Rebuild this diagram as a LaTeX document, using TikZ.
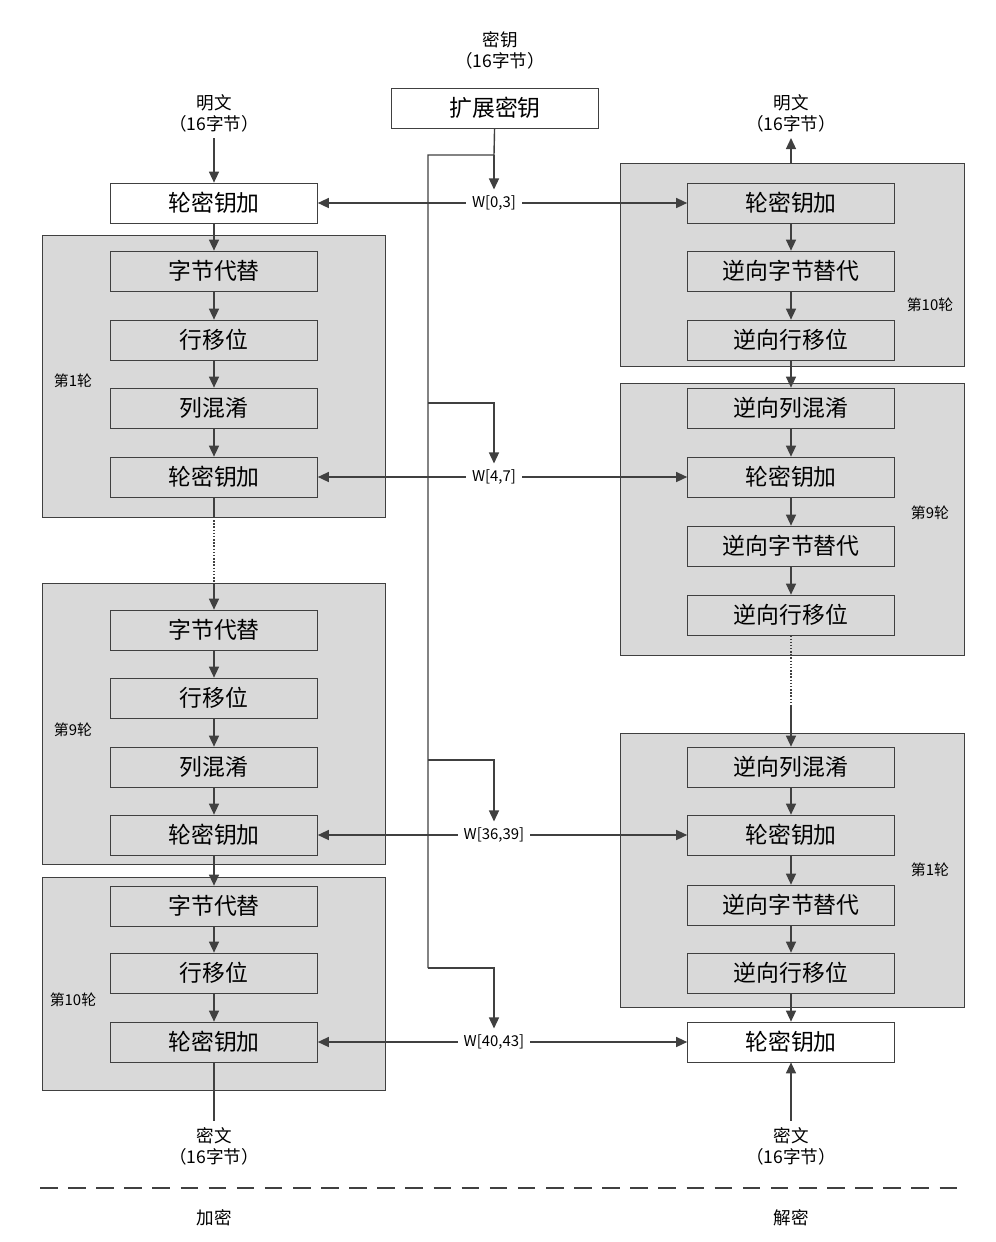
\documentclass[tikz,border=0pt]{standalone}
\usepackage{fontspec}
\setmainfont{Noto Sans CJK SC}
\usetikzlibrary{
  positioning,
  calc,
  arrows.meta}
\definecolor{linecolor}{RGB}{64,64,64}
\definecolor{roundcolor}{RGB}{217,217,217}
\tikzset{
  %% opbox : one operation of a round
  %%      ("step" is predefined and can't be used)
  opbox/.style={
    rectangle,
    draw=linecolor,
    fill=roundcolor,
    minimum width=4.14cm,
    minimum height=0.8cm,
    font=\fontsize{13}{15}\selectfont,
    align=center
  },
  %% outer : operation outside of the rounds
  outer/.style={opbox, fill=white},
  %% round : frame around a round
  %% use as \draw [round] (upper left) rectangle (lower right);
  round/.style={draw=linecolor, fill=roundcolor},
  %% small : labels
  small/.style={font=\fontsize{10}{12}\selectfont, align=center},
  tag/.style={font=\fontsize{8.5}{10}\selectfont},
  flow/.style={linecolor, thick, -{Triangle[length=2.2mm,width=2mm]}},
  wire/.style={linecolor, thick}
}

\begin{document}
\begin{tikzpicture}
  [x=0.02cm,
  y=-0.02cm]
  \useasboundingbox (0,0) rectangle (996,1242);

  %% Round frames
  \draw [round] (42,235) rectangle (385,517);
  \draw [round] (42,583) rectangle (385,864);
  \draw [round] (42,877) rectangle (385,1090);
  \draw [round] (620,163) rectangle (964,366);
  \draw [round] (620,383) rectangle (964,655);
  \draw [round] (620,733) rectangle (964,1007);

  \node [tag] at (73,381) {第1轮};
  \node [tag] at (73,730) {第9轮};
  \node [tag] at (73,1000) {第10轮};
  \node [tag] at (930,305) {第10轮};
  \node [tag] at (930,513) {第9轮};
  \node [tag] at (930,870) {第1轮};

  %% Key schedule
  \node (key in) [small] at (500,50) {密钥\\（16字节）};
  \node (expand) [outer] at (495,108) {扩展密钥};

  %% Encryption
  \node (plain e) [small] at (214,113) {明文\\（16字节）};
  \node (e0) [outer] at (214,203) {轮密钥加};
  \node (e11) [opbox] at (214,271) {字节代替};
  \node (e12) [opbox] at (214,340) {行移位};
  \node (e13) [opbox] at (214,408) {列混淆};
  \node (e14) [opbox] at (214,477) {轮密钥加};
  \node (e91) [opbox] at (214,630) {字节代替};
  \node (e92) [opbox] at (214,698) {行移位};
  \node (e93) [opbox] at (214,767) {列混淆};
  \node (e94) [opbox] at (214,835) {轮密钥加};
  \node (e101) [opbox] at (214,906) {字节代替};
  \node (e102) [opbox] at (214,973) {行移位};
  \node (e103) [opbox] at (214,1042) {轮密钥加};
  \node (cipher e) [small] at (214,1146) {密文\\（16字节）};

  %% Decryption
  \node (plain d) [small] at (791,113) {明文\\（16字节）};
  \node (d101) [opbox] at (791,203) {轮密钥加};
  \node (d102) [opbox] at (791,271) {逆向字节替代};
  \node (d103) [opbox] at (791,340) {逆向行移位};
  \node (d91) [opbox] at (791,408) {逆向列混淆};
  \node (d92) [opbox] at (791,477) {轮密钥加};
  \node (d93) [opbox] at (791,546) {逆向字节替代};
  \node (d94) [opbox] at (791,615) {逆向行移位};
  \node (d11) [opbox] at (791,767) {逆向列混淆};
  \node (d12) [opbox] at (791,835) {轮密钥加};
  \node (d13) [opbox] at (791,905) {逆向字节替代};
  \node (d14) [opbox] at (791,973) {逆向行移位};
  \node (d0) [outer] at (791,1042) {轮密钥加};
  \node (cipher d) [small] at (791,1146) {密文\\（16字节）};

  %% Connections, encryption
  \draw [flow] (plain e) -- (e0);
  \draw [flow] (e0) -- (e11);
  \draw [flow] (e11) -- (e12);
  \draw [flow] (e12) -- (e13);
  \draw [flow] (e13) -- (e14);
  \coordinate (e gap top) at (214,517);
  \coordinate (e gap bot) at (214,583);
  \draw [wire] (e14) -- (e gap top);
  \draw [wire, densely dotted] (e gap top) -- (e gap bot);
  \draw [flow] (e gap bot) -- (e91);
  \draw [flow] (e91) -- (e92);
  \draw [flow] (e92) -- (e93);
  \draw [flow] (e93) -- (e94);
  \draw [flow] (e94) -- (e101);
  \draw [flow] (e101) -- (e102);
  \draw [flow] (e102) -- (e103);
  \draw [wire] (e103) -- (cipher e);

  %% Connections, decryption
  \coordinate (d top) at (791,163);
  \draw [flow] (d top) -- (plain d);
  \draw [flow] (d101) -- (d102);
  \draw [flow] (d102) -- (d103);
  \draw [flow] (d103) -- (d91);
  \draw [flow] (d91) -- (d92);
  \draw [flow] (d92) -- (d93);
  \draw [flow] (d93) -- (d94);
  \coordinate (d gap bot) at (791,705);
  \draw [wire, densely dotted] (d94) -- (d gap bot);
  \draw [flow] (d gap bot) -- (d11);
  \draw [flow] (d11) -- (d12);
  \draw [flow] (d12) -- (d13);
  \draw [flow] (d13) -- (d14);
  \draw [flow] (d14) -- (d0);
  \draw [flow] (cipher d) -- (d0);

  %% Round keys
  \node (w0) [tag] at (494,203) {W[0,3]};
  \node (w1) [tag] at (494,477) {W[4,7]};
  \node (w9) [tag] at (494,835) {W[36,39]};
  \node (w10) [tag] at (494,1042) {W[40,43]};
  \coordinate (k0) at (494,155);
  \coordinate (k1) at (428,403);
  \coordinate (k9) at (428,760);
  \coordinate (k10) at (428,968);
  \draw [wire] (expand) -- (k0) -- (428,155) -- (k10);
  \draw [flow] (k0) -- (w0);
  \draw [flow] (k1) -| (w1);
  \draw [flow] (k9) -| (w9);
  \draw [flow] (k10) -| (w10);
  \foreach \w/\e/\d in {w0/e0/d101, w1/e14/d92, w9/e94/d12, w10/e103/d0}{
    \draw [flow] (\w) -- (\e);
    \draw [flow] (\w) -- (\d);
  }

  %% Separator
  \draw [wire, dash pattern=on 10pt off 6pt] (40,1188) -- (965,1188);
  \node [small] at (214,1218) {加密};
  \node [small] at (791,1218) {解密};

\end{tikzpicture}
\end{document}
